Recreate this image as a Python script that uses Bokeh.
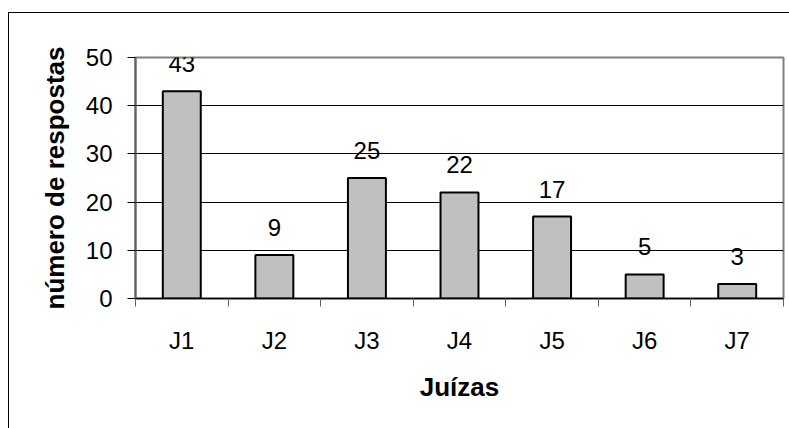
from bokeh.plotting import figure
from bokeh.models import (ColumnDataSource, FixedTicker, Range1d, InlineStyleSheet,
                          LabelSet)
from bokeh.embed import file_html
from bokeh.resources import INLINE
from bokeh.core.properties import value

categories = ["J1", "J2", "J3", "J4", "J5", "J6", "J7"]
responses = [43, 9, 25, 22, 17, 5, 3]
y_ticks = [0, 10, 20, 30, 40, 50]

xs = [i + 0.5 for i in range(len(categories))]
src = ColumnDataSource(dict(x=xs, top=responses, lab=[str(v) for v in responses]))

FONT = "Liberation Sans"

p = figure(width=789, height=428, output_backend="svg", toolbar_location=None,
           x_range=Range1d(0, len(categories)), y_range=Range1d(0, 50),
           min_border_left=135, min_border_right=6, min_border_top=57,
           min_border_bottom=130)

p.outline_line_color = "#808080"
p.outline_line_width = 2
p.background_fill_color = "white"
p.border_fill_color = "white"

# outer chart border (top and left edges visible in the reference)
p.stylesheets = [InlineStyleSheet(css=(
    ":host{position:relative;}"
    ":host::after{content:'';position:absolute;left:8px;top:12px;right:0;bottom:0;"
    "border-left:1.5px solid black;border-top:1.5px solid black;"
    "pointer-events:none;z-index:10;}"))]

p.vbar(x="x", top="top", width=0.41, bottom=0, source=src,
       fill_color="#C0C0C0", line_color="black", line_width=2)

p.add_layout(LabelSet(x="x", y="top", text="lab", source=src, text_align="center",
                      text_baseline="alphabetic", y_offset=19,
                      text_font=value(FONT), text_font_size=value("24px"),
                      text_color="black"))

# grid
p.xgrid.visible = False
p.ygrid.ticker = FixedTicker(ticks=[t for t in y_ticks if 0 < t < 50])
p.ygrid.grid_line_color = "black"
p.ygrid.grid_line_width = 1

# y axis
ya = p.yaxis[0]
ya.ticker = FixedTicker(ticks=y_ticks)
ya.axis_label = "número de respostas"
ya.axis_label_text_font = FONT
ya.axis_label_text_font_style = "bold"
ya.axis_label_text_font_size = "26px"
ya.axis_label_text_color = "black"
ya.axis_label_standoff = 13
ya.major_label_text_font = FONT
ya.major_label_text_font_size = "24px"
ya.major_label_text_color = "black"
ya.major_label_standoff = 15
ya.major_tick_out = 8
ya.major_tick_in = 0
ya.minor_tick_out = 0
ya.minor_tick_in = 0
ya.axis_line_color = "#606060"
ya.axis_line_width = 2
ya.major_tick_line_color = "black"

# x axis
xa = p.xaxis[0]
xa.ticker = FixedTicker(ticks=xs, minor_ticks=list(range(len(categories) + 1)))
xa.major_label_overrides = {x: c for x, c in zip(xs, categories)}
xa.axis_label = "Juízas"
xa.axis_label_text_font = FONT
xa.axis_label_text_font_style = "bold"
xa.axis_label_text_font_size = "26px"
xa.axis_label_text_color = "black"
xa.axis_label_standoff = 15
xa.major_label_text_font = FONT
xa.major_label_text_font_size = "24px"
xa.major_label_text_color = "black"
xa.major_label_standoff = 20
xa.major_tick_out = 0
xa.major_tick_in = 0
xa.minor_tick_out = 8
xa.minor_tick_in = 0
xa.minor_tick_line_color = "#606060"
xa.axis_line_color = "black"
xa.axis_line_width = 1.5

open("out.html", "w").write(file_html(p, INLINE))
